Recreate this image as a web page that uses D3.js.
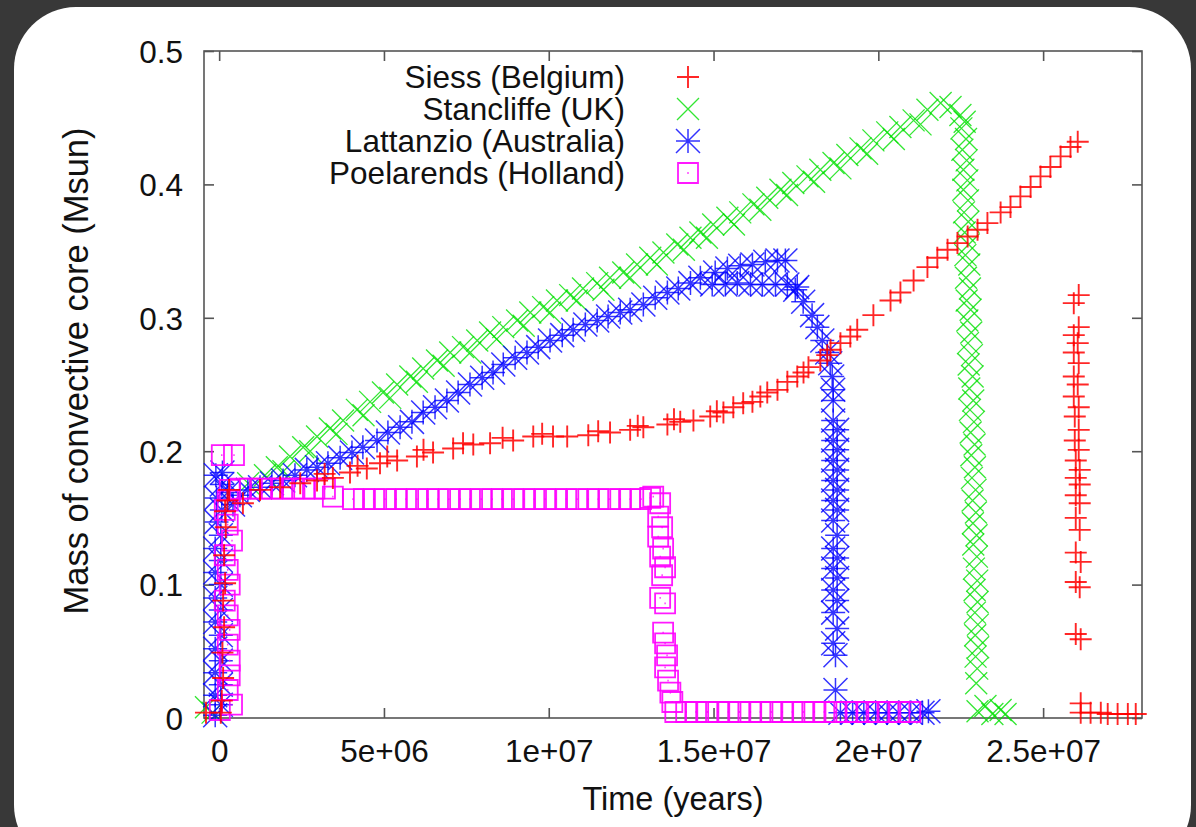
<!DOCTYPE html>
<html>
<head>
<meta charset="utf-8">
<script src="https://cdn.jsdelivr.net/npm/d3@7"></script>
<style>
  html, body { margin: 0; padding: 0; background: #383838; }
  svg { display: block; }
  text { font-family: "Liberation Sans", Arial, Helvetica, sans-serif; fill: #111; }
</style>
</head>
<body>
<svg id="chart" width="1196" height="827"></svg>
<script>
// Convective core mass versus age for four stellar evolution codes.
// Each point: [age in Myr, core mass in Msun].

const siess = [
  [-0.40,0.004],[0.05,0.004],[0.08,0.013],[0.12,0.030],[0.10,0.049],[0.15,0.068],[0.12,0.088],
  [0.18,0.101],[0.15,0.122],[0.20,0.143],[0.18,0.155],[0.25,0.163],[0.30,0.171],
  [0.72,0.161],[1.24,0.171],[1.85,0.173],[2.46,0.176],[2.97,0.178],[3.45,0.180],[3.97,0.184],
  [4.48,0.187],[4.88,0.191],[5.40,0.193],[6.00,0.196],[6.49,0.199],[7.10,0.202],[7.71,0.205],
  [8.22,0.206],[8.92,0.208],[9.53,0.211],[10.13,0.211],[10.56,0.211],[11.20,0.212],[11.86,0.214],
  [12.47,0.216],[12.87,0.218],[13.60,0.220],[13.99,0.222],[14.39,0.223],[14.90,0.226],[15.30,0.229],
  [15.60,0.233],[15.90,0.236],[16.18,0.237],[16.42,0.241],[16.63,0.244],[16.94,0.246],[17.24,0.252],
  [17.54,0.256],[17.73,0.259],[17.88,0.263],[18.24,0.268],[18.45,0.272],[18.55,0.276],[18.85,0.281],
  [19.15,0.286],[19.36,0.291],[19.85,0.302],[20.37,0.313],[20.67,0.319],[21.07,0.328],[21.49,0.338],
  [21.79,0.345],[22.10,0.351],[22.40,0.356],[22.71,0.361],[23.01,0.366],[23.31,0.371],[23.71,0.379],
  [24.01,0.383],[24.31,0.391],[24.62,0.398],[24.92,0.406],[25.22,0.413],[25.53,0.421],[25.83,0.428],
  [26.05,0.432],
  [3.20,0.183],[4.20,0.189],[5.10,0.196],[6.20,0.201],[7.40,0.206],[8.60,0.210],[9.80,0.213],
  [11.50,0.215],[12.70,0.219],[13.80,0.224],[15.10,0.230],
  [26.08,0.317],[25.93,0.311],[26.08,0.293],[25.93,0.287],[26.05,0.281],[25.93,0.274],[26.08,0.266],
  [25.93,0.256],[26.05,0.250],[25.93,0.241],[26.08,0.233],[25.96,0.226],[26.08,0.216],[25.96,0.208],
  [26.08,0.201],[25.99,0.193],[26.11,0.186],[25.99,0.180],[26.11,0.175],[25.99,0.167],[26.11,0.161],
  [25.99,0.150],[26.11,0.141],[25.99,0.124],[26.14,0.117],[25.99,0.102],[26.11,0.098],[25.99,0.063],
  [26.14,0.059],[26.14,0.011],
  [26.14,0.004],[26.44,0.004],[26.75,0.004],[26.96,0.003],[27.26,0.003],[27.57,0.003],[27.81,0.003]
];

const stancliffe = [
  [-0.40,0.008],[-0.20,0.004],
  [0.88,0.176],[1.39,0.182],[1.75,0.188],[2.15,0.196],[2.55,0.203],[2.97,0.211],[3.36,0.217],
  [3.76,0.223],[4.18,0.231],[4.58,0.237],[4.97,0.244],[5.40,0.250],[5.80,0.256],[6.19,0.262],
  [6.61,0.268],[7.01,0.274],[7.40,0.278],[7.83,0.283],[8.22,0.289],[8.62,0.293],[9.04,0.298],
  [9.44,0.304],[9.83,0.308],[10.25,0.313],[10.65,0.317],[11.04,0.322],[11.47,0.326],[11.86,0.330],
  [12.26,0.334],[12.68,0.340],[13.08,0.345],[13.48,0.349],[13.90,0.355],[14.30,0.360],[14.60,0.364],
  [14.99,0.370],[15.42,0.375],[15.81,0.379],[16.21,0.385],[16.63,0.390],[17.03,0.396],[17.42,0.401],
  [17.85,0.406],[18.24,0.411],[18.64,0.416],[19.06,0.422],[19.46,0.427],[19.85,0.433],[20.27,0.439],
  [20.67,0.443],[21.07,0.448],[21.49,0.456],[21.89,0.461],[22.19,0.458],[22.49,0.452],
  [1.95,0.185],[2.76,0.200],[3.56,0.213],[4.38,0.227],[5.19,0.240],[6.00,0.252],[6.81,0.264],
  [7.62,0.274],[8.42,0.284],[9.24,0.294],[10.04,0.304],[10.85,0.313],[11.66,0.321],[12.47,0.330],
  [13.28,0.340],[14.10,0.351],[14.80,0.360],[15.62,0.370],[16.42,0.381],[17.23,0.392],[18.05,0.402],
  [18.85,0.412],[19.66,0.423],[20.47,0.434],[21.28,0.445],
  [22.62,0.447],[22.52,0.442],[22.66,0.434],[22.55,0.426],[22.68,0.418],[22.58,0.411],[22.70,0.403],
  [22.58,0.396],[22.72,0.388],[22.60,0.379],[22.73,0.372],[22.62,0.364],[22.74,0.355],[22.64,0.347],
  [22.76,0.340],[22.66,0.330],[22.78,0.322],[22.68,0.313],[22.80,0.306],[22.70,0.298],[22.82,0.289],
  [22.72,0.281],[22.84,0.272],[22.74,0.265],[22.86,0.256],[22.76,0.247],[22.88,0.238],[22.78,0.231],
  [22.90,0.222],[22.80,0.214],[22.92,0.205],[22.82,0.197],[22.93,0.188],[22.84,0.180],[22.95,0.171],
  [22.86,0.163],[22.96,0.154],[22.87,0.146],[22.98,0.137],[22.88,0.130],[22.99,0.121],[22.90,0.112],
  [23.00,0.103],[22.92,0.096],[23.01,0.087],[22.93,0.079],[23.02,0.070],[22.94,0.062],[23.03,0.053],
  [22.95,0.046],[23.00,0.037],[22.97,0.026],
  [23.01,0.005],[23.25,0.009],[23.46,0.003],[23.71,0.006],[23.86,0.003]
];

const lattanzio = [
  [-0.12,0.002],[0.05,0.010],[-0.12,0.017],[0.05,0.025],[-0.12,0.034],[0.05,0.043],[-0.12,0.052],
  [0.05,0.062],[-0.12,0.072],[0.05,0.081],[-0.12,0.090],[0.05,0.100],[-0.12,0.109],[0.05,0.118],
  [-0.12,0.127],[0.05,0.137],[-0.08,0.147],[0.08,0.156],[-0.08,0.165],[0.08,0.175],[0.10,0.184],
  [-0.10,0.182],[0.26,0.169],[0.42,0.160],
  [0.63,0.167],[0.87,0.171],[1.24,0.173],[1.60,0.176],[1.94,0.178],[2.30,0.182],[2.66,0.186],
  [2.97,0.188],[3.30,0.191],[3.67,0.195],[4.03,0.199],[4.36,0.203],[4.79,0.208],[5.12,0.214],
  [5.49,0.218],[5.85,0.222],[6.19,0.229],[6.55,0.233],[6.91,0.238],[7.25,0.244],[7.61,0.250],
  [7.98,0.255],[8.31,0.259],[8.62,0.265],[8.98,0.270],[9.34,0.274],[9.68,0.278],[10.04,0.283],
  [10.41,0.287],[10.74,0.291],[11.11,0.295],[11.47,0.298],[11.80,0.301],[12.17,0.304],[12.47,0.306],
  [12.87,0.310],[13.23,0.315],[13.60,0.319],[13.93,0.322],[14.30,0.326],[14.60,0.330],
  [14.96,0.325],[15.36,0.325],[15.72,0.326],[16.12,0.325],[16.48,0.325],[16.88,0.325],[17.24,0.325],
  [17.54,0.323],
  [15.05,0.334],[15.42,0.337],[15.81,0.339],[16.18,0.340],[16.57,0.342],[16.94,0.343],[17.18,0.343],
  [17.48,0.321],[17.72,0.312],[17.99,0.302],[18.15,0.293],[18.30,0.283],[18.45,0.274],[18.54,0.266],
  [18.60,0.256],[18.63,0.246],[18.63,0.238],
  [18.63,0.223],[18.75,0.216],[18.63,0.208],[18.75,0.201],[18.63,0.193],[18.75,0.186],[18.63,0.178],
  [18.75,0.171],[18.63,0.163],[18.75,0.156],[18.63,0.148],[18.75,0.137],[18.63,0.127],[18.75,0.120],
  [18.63,0.112],[18.75,0.105],[18.63,0.096],[18.75,0.088],[18.63,0.079],[18.75,0.067],[18.63,0.056],
  [18.70,0.047],[18.70,0.021],
  [18.85,0.004],[19.22,0.004],[19.56,0.004],[19.92,0.004],[20.27,0.004],[20.61,0.004],[20.98,0.004],
  [21.34,0.004],[21.52,0.005]
];

const poelarends = [
  [0.02,0.006],[0.39,0.010],[0.26,0.021],[0.32,0.032],[0.32,0.043],[0.26,0.055],[0.32,0.066],
  [0.26,0.077],[0.17,0.088],[0.32,0.100],[0.26,0.111],[0.17,0.122],[0.39,0.133],[0.26,0.145],
  [0.17,0.156],[0.26,0.163],[0.32,0.171],[0.08,0.197],[0.45,0.197],
  [0.63,0.172],[0.93,0.172],[1.27,0.172],[1.60,0.172],[1.91,0.172],[2.24,0.172],[2.58,0.172],
  [2.89,0.172],[3.21,0.172],[3.45,0.166],
  [4.06,0.164],[4.39,0.164],[4.70,0.164],[5.03,0.164],[5.37,0.164],[5.67,0.164],[6.00,0.164],
  [6.34,0.164],[6.64,0.164],[6.97,0.164],[7.31,0.164],[7.61,0.164],[7.95,0.164],[8.28,0.164],
  [8.58,0.164],[8.92,0.164],[9.25,0.164],[9.56,0.164],[9.89,0.164],[10.22,0.164],[10.53,0.164],
  [10.86,0.164],[11.20,0.164],[11.50,0.164],[11.83,0.164],[12.17,0.164],[12.47,0.164],[12.80,0.164],
  [13.08,0.165],
  [13.17,0.166],[13.38,0.161],[13.32,0.151],[13.44,0.143],[13.32,0.136],[13.47,0.127],[13.38,0.121],
  [13.53,0.113],[13.44,0.107],[13.38,0.090],[13.53,0.086],[13.47,0.064],[13.53,0.056],[13.59,0.047],
  [13.53,0.038],[13.62,0.028],[13.69,0.019],[13.75,0.012],
  [13.84,0.0045],[14.17,0.0045],[14.47,0.0045],[14.81,0.0045],[15.14,0.0045],[15.45,0.0045],
  [15.78,0.0045],[16.12,0.0045],[16.42,0.0045],[16.75,0.0045],[17.09,0.0045],[17.39,0.0045],
  [17.72,0.0045],[18.06,0.0045],[18.36,0.0045],[18.70,0.0045],[19.03,0.0045],[19.34,0.0045],
  [19.67,0.0045],[20.00,0.0045],[20.31,0.0045],[20.64,0.0045],[20.97,0.0045]
];

const seriesNames = ["Siess (Belgium)", "Stancliffe (UK)", "Lattanzio (Australia)", "Poelarends (Holland)"];
const seriesColors = ["#ff0000", "#00e000", "#0000ff", "#ff00ff"];

const xTickValues = [0, 5, 10, 15, 20, 25];           // Myr
const xTickLabels = ["0", "5e+06", "1e+07", "1.5e+07", "2e+07", "2.5e+07"];
const yTickValues = [0, 0.1, 0.2, 0.3, 0.4, 0.5];
const yTickLabels = ["0", "0.1", "0.2", "0.3", "0.4", "0.5"];

// ---- point shapes (gnuplot style) ----
const plusShape = { draw(ctx, size) { const h = Math.sqrt(size) / 2;
  ctx.moveTo(-h, 0); ctx.lineTo(h, 0); ctx.moveTo(0, -h); ctx.lineTo(0, h); } };
const crossShape = { draw(ctx, size) { const h = Math.sqrt(size) / 2;
  ctx.moveTo(-h, -h); ctx.lineTo(h, h); ctx.moveTo(-h, h); ctx.lineTo(h, -h); } };
const starShape = { draw(ctx, size) { const h = Math.sqrt(size) / 2;
  ctx.moveTo(-h, 0); ctx.lineTo(h, 0); ctx.moveTo(0, -h); ctx.lineTo(0, h);
  ctx.moveTo(-h, -h); ctx.lineTo(h, h); ctx.moveTo(-h, h); ctx.lineTo(h, -h); } };
const boxShape = { draw(ctx, size) { const h = Math.sqrt(size) / 2;
  ctx.moveTo(-h, -h); ctx.lineTo(h, -h); ctx.lineTo(h, h); ctx.lineTo(-h, h); ctx.closePath();
  ctx.moveTo(-0.6, 0); ctx.lineTo(0.6, 0); } };

const svg = d3.select("#chart");
const fontSize = 31.5;

// rounded card behind the plot
svg.append("rect").attr("x", 14).attr("y", 7).attr("width", 1177).attr("height", 860)
  .attr("rx", 62).attr("ry", 62).attr("fill", "#ffffff");

const plot = { left: 204, right: 1142, top: 51, bottom: 718 };

const x = d3.scaleLinear().domain([-0.46, 28.0]).range([plot.left, plot.right]);
const y = d3.scaleLinear().domain([0, 0.5]).range([plot.bottom, plot.top]);

const tickLen = 10;
const axisColor = "#555";

function styleAxis(g) {
  g.select(".domain").remove();
  g.selectAll(".tick line").attr("stroke", axisColor).attr("stroke-width", 1.6);
  g.selectAll(".tick text").attr("font-size", fontSize).attr("fill", "#111")
    .attr("font-family", "\"Liberation Sans\", Arial, Helvetica, sans-serif");
}

svg.append("g").attr("transform", `translate(0,${plot.bottom})`)
  .call(d3.axisBottom(x).tickValues(xTickValues).tickFormat((d, i) => xTickLabels[i])
    .tickSize(-tickLen).tickPadding(21.5))
  .call(styleAxis);
svg.append("g").attr("transform", `translate(0,${plot.top})`)
  .call(d3.axisTop(x).tickValues(xTickValues).tickFormat("").tickSize(-tickLen))
  .call(styleAxis);
svg.append("g").attr("transform", `translate(${plot.left},0)`)
  .call(d3.axisLeft(y).tickValues(yTickValues).tickFormat((d, i) => yTickLabels[i])
    .tickSize(-tickLen).tickPadding(21))
  .call(styleAxis)
  .selectAll(".tick text").attr("dy", "0.36em");
svg.append("g").attr("transform", `translate(${plot.right},0)`)
  .call(d3.axisRight(y).tickValues(yTickValues).tickFormat("").tickSize(-tickLen))
  .call(styleAxis);

// plot border
svg.append("rect").attr("x", plot.left).attr("y", plot.top)
  .attr("width", plot.right - plot.left).attr("height", plot.bottom - plot.top)
  .attr("fill", "none").attr("stroke", axisColor).attr("stroke-width", 1.6);

// axis titles
svg.append("text").attr("x", (plot.left + plot.right) / 2).attr("y", 810)
  .attr("text-anchor", "middle").attr("font-size", 32.5).text("Time (years)");
svg.append("text").attr("transform", `translate(88,371) rotate(-90)`)
  .attr("text-anchor", "middle").attr("font-size", 34.5).text("Mass of convective core (Msun)");

// series definitions
const series = [
  { name: seriesNames[0], data: siess,      color: seriesColors[0], shape: plusShape,  size: 22 * 22, width: 1.9, opacity: 0.85 },
  { name: seriesNames[1], data: stancliffe, color: seriesColors[1], shape: crossShape, size: 22 * 22, width: 1.3, opacity: 0.8 },
  { name: seriesNames[2], data: lattanzio,  color: seriesColors[2], shape: starShape,  size: 24 * 24, width: 1.5, opacity: 0.8 },
  { name: seriesNames[3], data: poelarends, color: seriesColors[3], shape: boxShape,   size: 20 * 20, width: 1.8, opacity: 0.9 }
];

// drawing order: green, blue, magenta, red on top
const drawOrder = [1, 2, 3, 0];
drawOrder.forEach(k => {
  const s = series[k];
  const sym = d3.symbol().type(s.shape).size(s.size);
  svg.append("g")
    .attr("fill", "none").attr("stroke", s.color).attr("stroke-width", s.width)
    .attr("stroke-opacity", s.opacity)
    .selectAll("path").data(s.data).join("path")
    .attr("transform", d => `translate(${x(d[0])},${y(d[1])})`)
    .attr("d", sym);
});

// legend
const legendTextX = 625, legendMarkX = 688, legendTop = 88, legendStep = 32;
series.forEach((s, i) => {
  const base = legendTop + i * legendStep;
  svg.append("text").attr("x", legendTextX).attr("y", base)
    .attr("text-anchor", "end").attr("font-size", fontSize).text(s.name);
  svg.append("path")
    .attr("transform", `translate(${legendMarkX},${base - 11})`)
    .attr("d", d3.symbol().type(s.shape).size(s.size)())
    .attr("fill", "none").attr("stroke", s.color).attr("stroke-width", s.width)
    .attr("stroke-opacity", s.opacity);
});
</script>
</body>
</html>
